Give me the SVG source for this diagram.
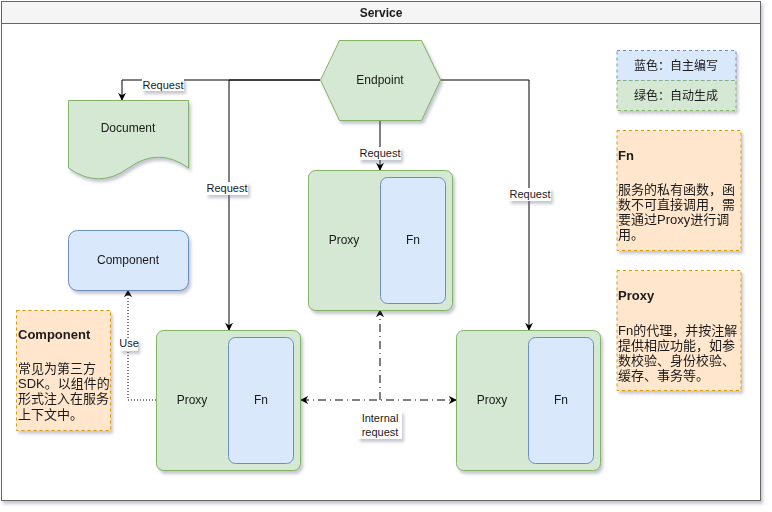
<svg xmlns="http://www.w3.org/2000/svg" width="772" height="512" viewBox="0 0 772 512">
<style>
text{font-family:"Liberation Sans","Noto Sans CJK SC",sans-serif;fill:#1a1a1a}
.n{font-size:12px;text-anchor:middle}
.e{font-size:11px;text-anchor:middle}
.note{font-size:13px}
.b{font-weight:bold}
.green{fill:#d5e8d4;stroke:#82b366;stroke-width:1}
.blue{fill:#dae8fc;stroke:#6c8ebf;stroke-width:1}
.orange{fill:#ffe6cc;stroke:#d79b00;stroke-width:1;stroke-dasharray:3 3}
.edge{fill:none;stroke:#000;stroke-width:1}
.lbl{fill:#fff}
</style>
<defs>
<filter id="sh" x="-10%" y="-10%" width="130%" height="130%">
<feDropShadow dx="2" dy="3" stdDeviation="1.5" flood-color="#606080" flood-opacity="0.35"/>
</filter>
<marker id="arr" viewBox="0 0 10 10" refX="9" refY="5" markerWidth="8" markerHeight="8" markerUnits="userSpaceOnUse" orient="auto-start-reverse">
<path d="M0,0 L10,5 L0,10 L3,5 z" fill="#000"/>
</marker>
</defs>

<g id="service" filter="url(#sh)">
<rect x="1.5" y="1.5" width="759" height="499" fill="#fff" stroke="#666"/>
<rect x="1.5" y="1.5" width="759" height="22" fill="#f5f5f5" stroke="#666"/>
<text class="n b" x="381" y="16.5">Service</text>
</g>

<g id="connectors">
<path class="edge" d="M320,80 H122 V100" marker-end="url(#arr)"/>
<path class="edge" d="M320,80 H229 V330" marker-end="url(#arr)"/>
<path class="edge" d="M380,120 V170" marker-end="url(#arr)"/>
<path class="edge" d="M440,80 H529 V330" marker-end="url(#arr)"/>
<path class="edge" d="M156,400 H128 V290" stroke-dasharray="1 2" marker-end="url(#arr)"/>
<path class="edge" d="M301,400 H456" stroke-dasharray="8 4 1 4" marker-start="url(#arr)" marker-end="url(#arr)"/>
<path class="edge" d="M380,400 V310" stroke-dasharray="8 4 1 4" marker-end="url(#arr)"/>
<g filter="url(#sh)">
<rect class="lbl" x="142" y="78" width="42" height="13"/>
<rect class="lbl" x="206" y="182" width="42" height="13"/>
<rect class="lbl" x="359" y="147" width="42" height="13"/>
<rect class="lbl" x="509" y="188" width="42" height="13"/>
<rect class="lbl" x="120" y="339" width="18" height="12"/>
<rect class="lbl" x="358" y="411" width="44" height="28"/>
</g>
<text class="e" x="163" y="88.5">Request</text>
<text class="e" x="227" y="192">Request</text>
<text class="e" x="380" y="157">Request</text>
<text class="e" x="530" y="198">Request</text>
<text class="e" x="129" y="347">Use</text>
<text class="e" x="380" y="422">Internal</text>
<text class="e" x="380" y="436">request</text>
</g>

<g id="endpoint" filter="url(#sh)">
<polygon class="green" points="320.5,80 339.5,40.5 421.5,40.5 440.5,80 421.5,120.5 339.5,120.5"/>
<text class="n" x="380" y="84">Endpoint</text>
</g>

<g id="document" filter="url(#sh)">
<path class="green" d="M68.5,100.5 H188.5 V168 Q158.5,146.4 128.5,168 Q98.5,189.6 68.5,168 Z"/>
<text class="n" x="128" y="132">Document</text>
</g>

<g id="component" filter="url(#sh)">
<rect class="blue" x="68.5" y="230.5" width="120" height="60" rx="9"/>
<text class="n" x="128" y="264">Component</text>
</g>

<g id="proxy-center" filter="url(#sh)">
<rect class="green" x="308.5" y="170.5" width="144" height="140" rx="7"/>
<rect class="blue" x="380.5" y="177.5" width="65" height="126" rx="7"/>
<text class="n" x="344" y="244">Proxy</text>
<text class="n" x="413" y="244">Fn</text>
</g>

<g id="proxy-left" filter="url(#sh)">
<rect class="green" x="156.5" y="330.5" width="144" height="140" rx="7"/>
<rect class="blue" x="228.5" y="337.5" width="65" height="126" rx="7"/>
<text class="n" x="192" y="404">Proxy</text>
<text class="n" x="261" y="404">Fn</text>
</g>

<g id="proxy-right" filter="url(#sh)">
<rect class="green" x="456.5" y="330.5" width="144" height="140" rx="7"/>
<rect class="blue" x="528.5" y="337.5" width="65" height="126" rx="7"/>
<text class="n" x="492" y="404">Proxy</text>
<text class="n" x="561" y="404">Fn</text>
</g>

<g id="legend" filter="url(#sh)">
<rect class="blue" x="617" y="50.5" width="119" height="30" stroke-dasharray="3 3"/>
<rect class="green" x="617" y="80.5" width="119" height="30" stroke-dasharray="3 3"/>
<text class="n" x="676" y="69.5">蓝色：自主编写</text>
<text class="n" x="676" y="99.5">绿色：自动生成</text>
</g>

<g id="note-fn" filter="url(#sh)">
<rect class="orange" x="617" y="130.5" width="124" height="120"/>
<text class="note b" x="618" y="159.5">Fn</text>
<text class="note" x="618" y="193.8">服务的私有函数，函</text>
<text class="note" x="618" y="208.8">数不可直接调用，需</text>
<text class="note" x="618" y="223.8">要通过Proxy进行调</text>
<text class="note" x="618" y="238.8">用。</text>
</g>

<g id="note-proxy" filter="url(#sh)">
<rect class="orange" x="617" y="270.5" width="124" height="120"/>
<text class="note b" x="618" y="299.5">Proxy</text>
<text class="note" x="618" y="334.5">Fn的代理，并按注解</text>
<text class="note" x="618" y="349.5">提供相应功能，如参</text>
<text class="note" x="618" y="364.5">数校验、身份校验、</text>
<text class="note" x="618" y="379.5">缓存、事务等。</text>
</g>

<g id="note-component" filter="url(#sh)">
<rect class="orange" x="16.5" y="310.5" width="94" height="120"/>
<text class="note b" x="18" y="338.5">Component</text>
<text class="note" x="18" y="372.5">常见为第三方</text>
<text class="note" x="18" y="387.8">SDK。以组件的</text>
<text class="note" x="18" y="403.1">形式注入在服务</text>
<text class="note" x="18" y="418.5">上下文中。</text>
</g>
</svg>
